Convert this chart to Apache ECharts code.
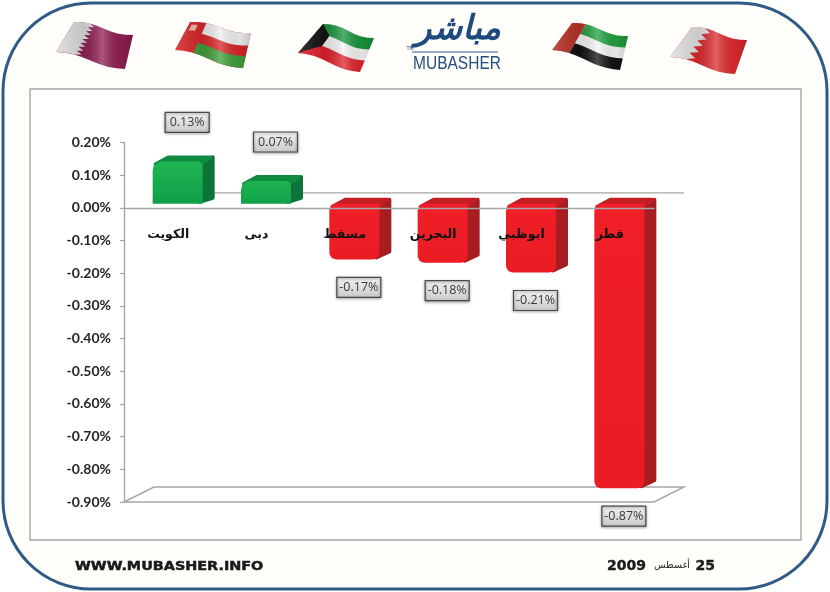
<!DOCTYPE html>
<html><head><meta charset="utf-8">
<style>html,body{margin:0;padding:0;background:#fff}#c{width:830px;height:592px}</style>
<script src="https://cdn.jsdelivr.net/npm/echarts@6/dist/echarts.min.js"></script>
</head><body><div id="c"></div>
<script>
const categories = ['الكويت','دبى','مسقط','البحرين','ابوظبي','قطر'];
const values = [0.13,0.07,-0.17,-0.18,-0.21,-0.87];
const yMin = -0.9, yMax = 0.2, yStep = 0.1;
const websiteText = 'WWW.MUBASHER.INFO';
const dateDay = '25', dateMonth = 'أغسطس', dateYear = '2009';
const logoArabic = 'مباشر', logoLatin = 'MUBASHER';

const GRID = {left:124, top:142.5, width:530, height:359.5};
const BAR_W = 50, DX = 12, DY = -6, SHIFT_X = 9.5, SHIFT_Y = -4;
const FLOOR_DX = 30, FLOOR_DY = -15;
const GREY = '#a6a6a6';

const PAL = {
  up:{front:['#1fb552','#0fa048'],top:'#0f8a40',side:'#0c7438'},
  down:{front:['#f01f27','#ec1c24'],top:'#c41e24',side:'#a71d22'}
};
function lg(a,b,h){return {type:'linear',x:0,y:0,x2:h?1:0,y2:h?0:1,colorStops:[{offset:0,color:a},{offset:1,color:b}]};}

function renderBar(params, api){
  const i = api.value(0), v = api.value(1);
  const top = api.coord([i, Math.max(v,0)]);
  const bot = api.coord([i, Math.min(v,0)]);
  const zeroY = api.coord([i,0])[1];
  const x = top[0] + SHIFT_X - BAR_W/2;
  const y1 = top[1] + SHIFT_Y, y2 = bot[1] + SHIFT_Y, x2 = x + BAR_W;
  const pos = v >= 0;
  const p = pos ? PAL.up : PAL.down;
  const rFront = pos ? [9,5,0,0] : [7,0,7,7];
  const edge = c => ({fill:c,stroke:c,lineWidth:4,lineJoin:'round'});
  const kids = [
    {type:'polygon',shape:{points:[[x2-3,y1+2],[x2+DX-2,y1+DY+2],[x2+DX-2,y2+DY-(pos?0:2)],[x2-3,y2-2]]},style:edge(p.side)},
    {type:'polygon',shape:{points:[[x+3,y1+3],[x+DX+4,y1+DY+2],[x2+DX-4,y1+DY+2],[x2-3,y1+3]]},style:edge(p.top)},
    {type:'rect',shape:{x:x,y:y1,width:BAR_W,height:y2-y1,r:rFront},style:{fill:lg(p.front[0],p.front[1])}}
  ];
  const lx = top[0] + (pos ? 19 : 14);
  const ly = pos ? y1 - 39 : y2 + 28;
  const bw = 44, bh = 20;
  kids.push({type:'rect',z2:20,shape:{x:lx-bw/2,y:ly-bh/2,width:bw,height:bh},
    style:{fill:lg('#f4f4f4','#c9c9c9'),stroke:'#4a4a4a',lineWidth:1.2,shadowBlur:3,shadowColor:'rgba(0,0,0,.4)',shadowOffsetY:1}});
  kids.push({type:'text',z2:21,style:{x:lx,y:ly,text:v.toFixed(2)+'%',align:'center',verticalAlign:'middle',
    font:'12.5px "Open Sans", sans-serif',fill:'#3a3a3a'}});
  kids.push({type:'text',z2:22,style:{x:top[0],y:zeroY+27,text:categories[i],align:'center',verticalAlign:'middle',
    font:'bold 12.5px "DejaVu Sans"',fill:'#111'}});
  return {type:'group',children:kids};
}
function renderFloor(params, api){
  const c = params.coordSys;
  const zero = api.coord([0,0])[1];
  const xl=c.x, xr=c.x+c.width, yb=c.y+c.height;
  const line = {stroke:GREY,lineWidth:1.4,fill:'none'};
  return {type:'group',children:[
    {type:'polygon',shape:{points:[[xl,yb],[xl+FLOOR_DX,yb+FLOOR_DY],[xr+FLOOR_DX,yb+FLOOR_DY],[xr,yb]]},style:{fill:'#fff',stroke:GREY,lineWidth:1.4}},
    {type:'line',shape:{x1:xl+FLOOR_DX,y1:zero+FLOOR_DY,x2:xr+FLOOR_DX,y2:zero+FLOOR_DY},style:line}
  ]};
}

/* decorative flags: bands in flag space, bent into a waving shape */
function flagMapper(c){
  const [T,L,TR,BR]=c;
  return (u,v)=>{
    const tx=T[0]+(TR[0]-T[0])*u, ty=T[1]+(TR[1]-T[1])*u;
    const bx=L[0]+(BR[0]-L[0])*u, by=L[1]+(BR[1]-L[1])*u;
    const w=Math.sin(u*Math.PI*2)*-2;
    return [tx+(bx-tx)*v, ty+(by-ty)*v+w];
  };
}
function region(m,poly){
  const out=[];
  for(let k=0;k<poly.length;k++){
    const a=poly[k],b=poly[(k+1)%poly.length];
    for(let s=0;s<8;s++){const t=s/8;out.push(m(a[0]+(b[0]-a[0])*t,a[1]+(b[1]-a[1])*t));}
  }
  return out;
}
function zig(u1,u2,n){
  const pts=[[0,0],[u1,0]];
  for(let k=0;k<n;k++){pts.push([u2,(k+.5)/n]);pts.push([u1,(k+1)/n]);}
  pts.push([0,1]);return pts;
}
function R(a,b,c,d){return [[a,c],[b,c],[b,d],[a,d]];}
const flags=[
 {c:[[74,22],[56,52],[133,35],[125,69]],parts:[['#8f1f52',R(0,1,0,1)],['#dcdcdc',zig(.27,.36,8)]]},
 {c:[[190,22],[175,50],[251,33],[243,68]],parts:[['#d8262a',R(0,1,0,1)],['#efefef',R(.27,1,0,.36)],['#3f9e3a',R(.27,1,.66,1)],['#e9b7a8',R(.05,.15,.1,.3)]]},
 {c:[[323,24],[298,53],[374,38],[360,72]],parts:[['#f2f2f2',R(0,1,0,1)],['#18963c',R(0,1,0,.34)],['#e0212a',R(0,1,.66,1)],['#141414',[[0,0],[.27,.33],[.27,.67],[0,1]]]]},
 {c:[[572,23],[552,50],[628,36],[620,70]],parts:[['#f4f4f4',R(0,1,0,1)],['#22a03f',R(.25,1,0,.34)],['#111',R(.25,1,.66,1)],['#b83226',R(0,.25,0,1)]]},
 {c:[[692,27],[670,57],[747,40],[735,74]],parts:[['#dd2a2e',R(0,1,0,1)],['#e2e2e2',zig(.24,.36,5)]]}
];
const deco=[];
flags.forEach(f=>{
  const m=flagMapper(f.c);
  f.parts.forEach(p=>deco.push({type:'polygon',silent:true,z:1,shape:{points:region(m,p[1])},style:{fill:p[0]}}));
  deco.push({type:'polygon',silent:true,z:1,shape:{points:region(m,R(0,1,0,1))},style:{fill:{type:'linear',x:0,y:0,x2:1,y2:0,colorStops:[
    {offset:0,color:'rgba(255,255,255,.15)'},{offset:.35,color:'rgba(0,0,0,.1)'},{offset:.6,color:'rgba(255,255,255,.25)'},{offset:.85,color:'rgba(0,0,0,.06)'},{offset:1,color:'rgba(0,0,0,.18)'}]}}});
});
const txt=(x,y,text,font,fill,align,extra,el)=>Object.assign({type:'text',silent:true,z:3,style:Object.assign({x,y,text,font,fill,align:align||'center',verticalAlign:'middle'},extra||{})},el||{});
const graphics=[
 {type:'rect',silent:true,z:0,shape:{x:3,y:3,width:824,height:586,r:88},style:{fill:'#fffefb',stroke:'#2f5a86',lineWidth:3}},
 {type:'rect',silent:true,z:0,shape:{x:30,y:89,width:771,height:451},style:{fill:'#fff',stroke:GREY,lineWidth:1.4}},
 ...deco,
 txt(458,30,logoArabic,'italic bold 34px "DejaVu Sans"','#1f4a80'),
 {type:'line',silent:true,z:3,shape:{x1:412,y1:52,x2:498,y2:52},style:{stroke:'#2d5a90',lineWidth:1.2}},
 txt(0,0,logoLatin,'15.5px "Liberation Sans"','#24507f','center',null,{x:457,y:64,scaleY:1.2}),
 txt(410,49,'TM','5px "Liberation Sans"','#24507f'),
 txt(0,0,websiteText,'bold 12.5px "DejaVu Sans"','#1a1a1a','left',{stroke:'#1a1a1a',lineWidth:.5},{x:75,y:567,scaleX:1.15}),
 txt(607,566,dateYear,'bold 14px "DejaVu Sans"','#1a1a1a','left',{stroke:'#1a1a1a',lineWidth:.4}),
 txt(672,566,dateMonth,'9.5px "DejaVu Sans"','#222','center'),
 txt(715,566,dateDay,'bold 14px "DejaVu Sans"','#1a1a1a','right',{stroke:'#1a1a1a',lineWidth:.4})
];

const chart=echarts.init(document.getElementById('c'),null,{renderer:'canvas'});
chart.setOption({
  animation:false,
  backgroundColor:'#fff',
  graphic:{elements:graphics},
  grid:{left:GRID.left,top:GRID.top,width:GRID.width,height:GRID.height,containLabel:false},
  xAxis:{type:'category',data:categories,z:10,
    axisLine:{onZero:true,lineStyle:{color:GREY,width:1.4}},
    axisTick:{show:false},
    axisLabel:{show:false}},
  yAxis:{type:'value',min:yMin,max:yMax,interval:yStep,splitLine:{show:false},
    axisLine:{show:true,lineStyle:{color:GREY,width:1.4}},
    axisTick:{show:true,length:4,lineStyle:{color:GREY,width:1.2}},
    axisLabel:{margin:13,color:'#262626',fontFamily:'Lato',fontWeight:'bold',fontSize:14,
      formatter:v=>v.toFixed(2)+'%'}},
  series:[
    {type:'custom',z:1,silent:true,clip:false,renderItem:renderFloor,data:[[0,0]],encode:{x:0,y:1}},
    {type:'custom',z:2,silent:true,clip:false,renderItem:renderBar,data:values.map((v,i)=>[i,v]),encode:{x:0,y:1}}
  ]
});
</script></body></html>
